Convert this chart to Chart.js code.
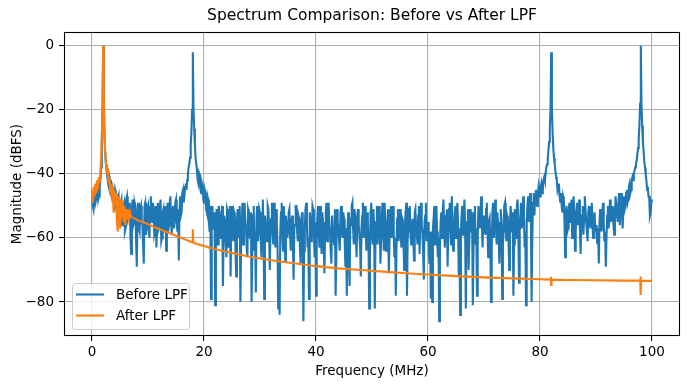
<!DOCTYPE html>
<html>
<head>
<meta charset="utf-8">
<script src="https://cdn.jsdelivr.net/npm/chart.js@4/dist/chart.umd.min.js"></script>
<style>
    html, body { margin: 0; padding: 0; background: #fff; }
    #wrap { width: 690px; height: 390px; }
</style>
</head>
<body>
<div id="wrap"><canvas id="spectrum" width="690" height="390"></canvas></div>
<script>
// "Before LPF" trace: one value per 0.125 MHz bin, 0..100 MHz (40 bins per row = 5 MHz)
const FREQ_STEP = 0.125;
const beforeMag = [
    -47,-50,-51,-46,-45,-49,-48,-45,-44,-48,-47,-44,-42,-38,-30,-20,0,-19,-29,-34,-37,-39,-41,-43,-44,-41,-42,-46,-47,-44,-45,-49,-50,-45,-46,-51,-52,-48,-47,-53,
    -54,-49,-48,-56,-55,-50,-49,-58,-57,-48,-47,-54,-53,-50,-49,-60,-65,-51,-48,-56,-55,-49,-50,-61,-69,-52,-49,-57,-58,-51,-50,-55,-56,-62,-68,-50,-49,-59,-57,-51,
    -50,-57,-60,-52,-47,-53,-55,-49,-51,-59,-58,-50,-63,-55,-49,-57,-56,-50,-48,-61,-60,-52,-51,-58,-57,-50,-64,-53,-49,-58,-56,-49,-47,-55,-59,-52,-50,-57,-55,-49,
    -48,-55,-58,-51,-67,-52,-47,-53,-52,-46,-45,-49,-47,-44,-43,-45,-42,-40,-38,-37,-35,-31,-27,-20,-2,-19,-26,-31,-35,-37,-39,-42,-43,-40,-41,-45,-46,-43,-44,-48,
    -49,-45,-46,-51,-52,-47,-48,-55,-58,-50,-79,-53,-50,-57,-56,-52,-81,-58,-51,-55,-62,-50,-53,-60,-58,-52,-50,-75,-60,-53,-55,-61,-66,-51,-52,-63,-59,-50,-72,-56,
    -50,-58,-61,-52,-53,-64,-72,-55,-51,-60,-58,-50,-80,-62,-54,-49,-62,-57,-49,-55,-57,-63,-66,-51,-52,-59,-60,-52,-80,-65,-53,-50,-64,-58,-77,-54,-50,-61,-58,-51,
    -52,-60,-66,-55,-48,-57,-79,-53,-55,-61,-61,-50,-51,-58,-70,-56,-54,-49,-59,-62,-49,-55,-63,-51,-55,-62,-82,-67,-84,-58,-52,-49,-60,-64,-50,-56,-67,-53,-55,-60,
    -58,-52,-51,-60,-64,-55,-53,-62,-73,-57,-56,-50,-50,-58,-61,-53,-54,-63,-68,-55,-52,-59,-86,-64,-57,-51,-49,-56,-63,-60,-79,-52,-54,-61,-60,-50,-51,-58,-66,-55,
    -78,-60,-53,-50,-59,-63,-50,-57,-65,-52,-55,-62,-71,-58,-52,-49,-61,-56,-49,-55,-58,-64,-68,-53,-53,-60,-62,-51,-78,-66,-51,-55,-57,-61,-64,-52,-50,-58,-60,-52,
    -54,-61,-69,-57,-78,-58,-52,-64,-75,-55,-56,-50,-49,-57,-62,-51,-54,-60,-66,-53,-51,-56,-59,-63,-72,-57,-53,-49,-60,-55,-50,-58,-64,-52,-55,-61,-82,-66,-52,-49,
    -58,-62,-51,-56,-82,-60,-55,-50,-62,-57,-50,-54,-68,-60,-53,-49,-59,-64,-49,-55,-64,-58,-55,-51,-71,-61,-52,-50,-60,-56,-50,-58,-66,-60,-78,-63,-54,-51,-61,-57,
    -51,-58,-63,-54,-55,-62,-70,-56,-52,-49,-78,-60,-57,-51,-50,-59,-62,-56,-54,-60,-67,-52,-51,-57,-59,-62,-53,-50,-65,-55,-49,-56,-58,-64,-73,-55,-53,-49,-61,-57,
    -55,-61,-68,-58,-79,-70,-80,-57,-54,-50,-62,-55,-50,-58,-66,-60,-86,-63,-55,-52,-60,-53,-48,-55,-63,-58,-53,-51,-69,-57,-51,-49,-58,-62,-47,-55,-64,-59,-54,-50,
    -60,-53,-49,-57,-72,-66,-84,-58,-53,-50,-59,-55,-48,-56,-82,-58,-55,-51,-70,-61,-51,-58,-58,-52,-81,-64,-54,-50,-62,-57,-78,-60,-50,-55,-57,-52,-47,-56,-63,-54,
    -53,-57,-59,-51,-49,-58,-66,-55,-54,-61,-80,-63,-52,-49,-60,-56,-48,-55,-62,-52,-55,-60,-68,-57,-51,-56,-79,-62,-57,-50,-49,-58,-61,-53,-54,-60,-70,-56,-50,-54,
    -58,-52,-78,-62,-51,-55,-60,-50,-48,-56,-74,-58,-53,-49,-57,-54,-47,-52,-63,-58,-81,-55,-50,-47,-55,-51,-46,-53,-80,-60,-49,-46,-53,-48,-45,-47,-50,-46,-44,-46,
    -47,-44,-43,-46,-45,-42,-41,-42,-40,-38,-37,-35,-33,-30,-26,-20,-2,-20,-27,-32,-35,-37,-39,-41,-42,-45,-44,-43,-47,-49,-46,-50,-52,-47,-48,-55,-66,-53,-50,-58,
    -57,-52,-49,-55,-54,-48,-60,-56,-47,-52,-64,-58,-52,-49,-56,-53,-48,-57,-65,-55,-53,-50,-59,-54,-47,-51,-55,-58,-61,-52,-50,-55,-57,-51,-49,-56,-60,-54,-52,-58,
    -56,-60,-62,-57,-68,-55,-51,-56,-58,-52,-49,-55,-61,-58,-69,-60,-53,-50,-57,-54,-48,-52,-55,-51,-50,-56,-59,-53,-47,-50,-53,-55,-49,-46,-56,-51,-46,-50,-57,-52,
    -47,-51,-50,-46,-45,-49,-48,-44,-43,-46,-45,-42,-41,-42,-40,-39,-38,-37,-36,-34,-32,-29,-25,-18,0,-18,-25,-30,-33,-36,-38,-40,-42,-45,-44,-47,-47,-53,-52,-49,
    -48
];

// "After LPF" trace, sampled where it changes
const afterFreq = [
    0,0.15,0.3,0.45,0.6,0.75,0.9,1.05,1.2,1.35,1.5,1.65,1.8,1.9,2.0,2.1,2.2,2.35,2.5,2.65,
    2.8,2.95,3.1,3.25,3.4,3.55,3.7,3.85,4.0,4.15,4.3,4.45,4.6,4.75,4.9,5.05,5.2,5.35,5.5,5.65,
    5.8,5.95,6.1,6.25,6.4,6.6,6.8,7.0,7.5,8,9,10,11,12,13,14,15,16,17,17.9,
    18,18.1,19,20,22,24,26,28,30,33,36,40,44,48,52,56,60,65,70,75,
    80,81.9,81.95,82,82.05,85,90,95,97.9,97.95,98,98.05,100
];
const afterMag = [
    -45,-49,-44,-47,-43,-46,-42,-45,-41,-43,-39,-34,-25,-12,0,-14,-26,-33,-37,-40,
    -38,-43,-41,-46,-43,-48,-44,-52,-45,-50,-46,-55,-58,-47,-53,-57,-48,-54,-49,-55,
    -50,-56,-51,-54,-51,-54,-52,-53.5,-53.8,-54.3,-55,-55.7,-56.5,-57.2,-57.9,-58.6,-59.3,-60,-60.7,-61.3,
    -57.3,-61.5,-62,-62.5,-63.5,-64.3,-65.1,-65.8,-66.4,-67.2,-67.9,-68.8,-69.5,-70,-70.5,-71,-71.4,-71.9,-72.3,-72.6,
    -72.9,-73,-72.1,-74.7,-73,-73.1,-73.2,-73.3,-73.3,-72,-77.8,-73.3,-73.4
];

const xTicks = [0, 20, 40, 60, 80, 100];
const yTicks = [0, -20, -40, -60, -80];

const FONT = "'DejaVu Sans', sans-serif";
const LABEL_SIZE = 13.5;

const beforePoints = beforeMag.map((v, i) => ({ x: i * FREQ_STEP, y: v }));
const afterPoints = afterMag.map((v, i) => ({ x: afterFreq[i], y: v }));

const fmt = v => String(v).replace('-', '\u2212');

// matplotlib style black frame round the plot area
const frame = {
    id: 'frame',
    afterDraw(chart) {
        const { ctx, chartArea: a } = chart;
        ctx.save();
        ctx.strokeStyle = '#000';
        ctx.lineWidth = 1.1;
        ctx.strokeRect(Math.round(a.left) + 0.5, Math.round(a.top) + 0.5,
            Math.round(a.right - a.left) - 1, Math.round(a.bottom - a.top) - 1);
        ctx.restore();
    }
};

// legend box in the lower left of the plot
const boxLegend = {
    id: 'boxLegend',
    afterDatasetsDraw(chart) {
        const { ctx, chartArea: a } = chart;
        const x = a.left + 8, y = a.bottom - 53, w = 117, h = 46, r = 3;
        ctx.save();
        ctx.beginPath();
        ctx.roundRect(x + 0.5, y + 0.5, w, h, r);
        ctx.fillStyle = 'rgba(255,255,255,0.8)';
        ctx.fill();
        ctx.strokeStyle = '#cccccc';
        ctx.lineWidth = 1;
        ctx.stroke();
        ctx.font = LABEL_SIZE + 'px ' + FONT;
        ctx.textBaseline = 'middle';
        chart.data.datasets.forEach((ds, i) => {
            const ly = y + 11.5 + i * 21;
            ctx.strokeStyle = ds.borderColor;
            ctx.lineWidth = 2.1;
            ctx.beginPath();
            ctx.moveTo(x + 4, ly);
            ctx.lineTo(x + 32, ly);
            ctx.stroke();
            ctx.fillStyle = '#000';
            ctx.fillText(ds.label, x + 44, ly + 1);
        });
        ctx.restore();
    }
};

new Chart(document.getElementById('spectrum'), {
    type: 'line',
    data: {
        datasets: [
            { label: 'Before LPF', data: beforePoints, borderColor: '#1f77b4', borderWidth: 2.1, pointRadius: 0, order: 2 },
            { label: 'After LPF', data: afterPoints, borderColor: '#ff7f0e', borderWidth: 2.1, pointRadius: 0, order: 1 }
        ]
    },
    options: {
        responsive: false,
        animation: false,
        events: [],
        layout: { padding: { left: 0, right: 10, top: 0, bottom: 0 } },
        plugins: {
            legend: { display: false },
            tooltip: { enabled: false },
            title: {
                display: true,
                fullSize: false,
                text: 'Spectrum Comparison: Before vs After LPF',
                color: '#000',
                font: { family: FONT, size: 15.5, weight: 'normal' },
                padding: { top: 7, bottom: 6.4 }
            }
        },
        scales: {
            x: {
                type: 'linear',
                min: -5, max: 105,
                afterBuildTicks: s => { s.ticks = xTicks.map(v => ({ value: v })); },
                afterFit: s => { s.height = 54; },
                ticks: { color: '#000', font: { family: FONT, size: LABEL_SIZE }, padding: 3, maxRotation: 0, callback: fmt },
                grid: { color: '#b0b0b0', lineWidth: 1.1, tickColor: '#000', tickLength: 5, tickWidth: 1.1 },
                border: { display: false },
                title: { display: true, text: 'Frequency (MHz)', color: '#000', font: { family: FONT, size: LABEL_SIZE }, padding: { top: 0, bottom: 10.4 } }
            },
            y: {
                min: -90.6, max: 4.3,
                afterBuildTicks: s => { s.ticks = yTicks.map(v => ({ value: v })); },
                afterFit: s => { s.width = 64; },
                ticks: { color: '#000', font: { family: FONT, size: LABEL_SIZE }, padding: 5, callback: fmt },
                grid: { color: '#b0b0b0', lineWidth: 1.1, tickColor: '#000', tickLength: 5, tickWidth: 1.1 },
                border: { display: false },
                title: { display: true, text: 'Magnitude (dBFS)', color: '#000', font: { family: FONT, size: LABEL_SIZE }, padding: { top: 9, bottom: 0 } }
            }
        }
    },
    plugins: [boxLegend, frame]
});
</script>
</body>
</html>
